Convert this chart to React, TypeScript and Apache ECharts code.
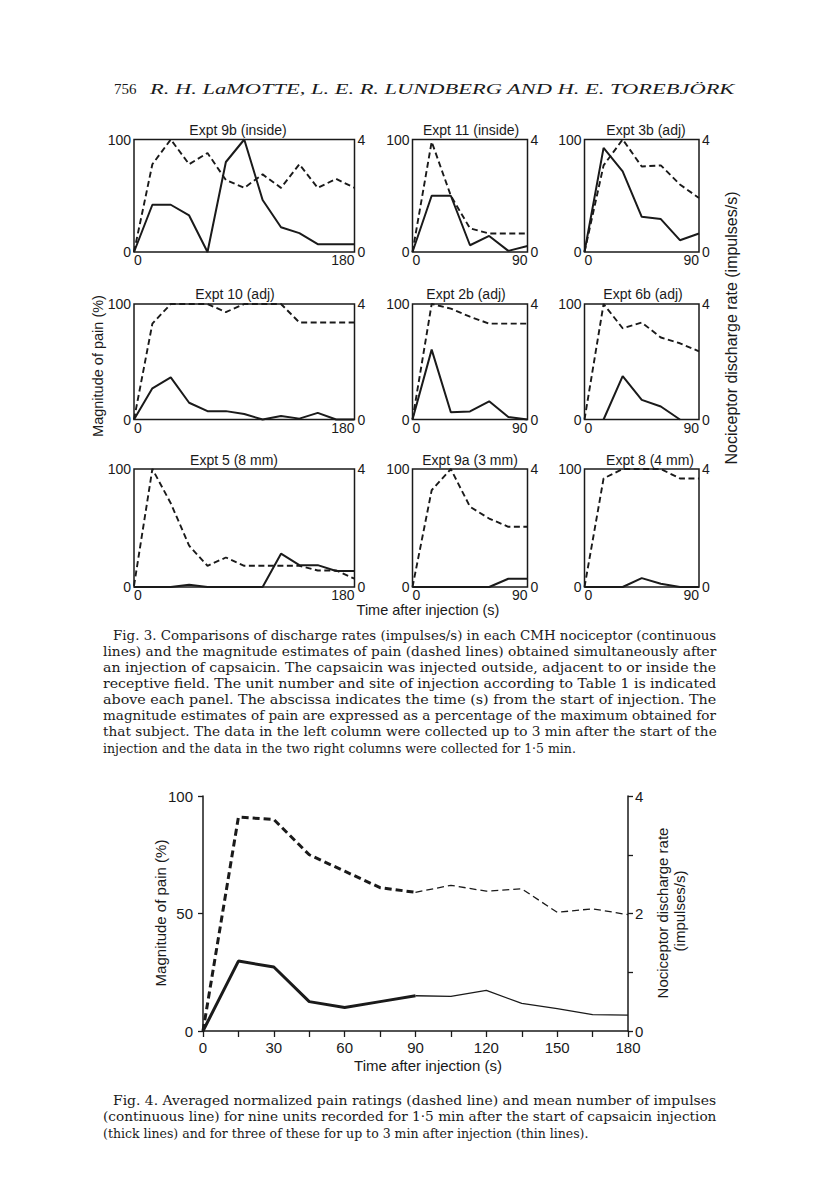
import React, { useEffect, useRef } from "react";
import * as echarts from "echarts";

// ---------- DATA ----------
const T180 = [0, 15, 30, 45, 60, 75, 90, 105, 120, 135, 150, 165, 180];
const T90 = [0, 15, 30, 45, 60, 75, 90];

const panelTitles = [
  "Expt 9b (inside)", "Expt 11 (inside)", "Expt 3b (adj)",
  "Expt 10 (adj)", "Expt 2b (adj)", "Expt 6b (adj)",
  "Expt 5 (8 mm)", "Expt 9a (3 mm)", "Expt 8 (4 mm)",
];

// pain magnitude (%) – dashed lines
const pain9b = [0, 78, 100, 78, 88, 64, 57, 69, 57, 78, 57, 65, 57];
const pain11 = [0, 98, 50, 21, 16.5, 16.5, 16.5];
const pain3b = [0, 77, 100, 76, 77, 60, 48];
const pain10 = [0, 83, 100, 100, 100, 93, 100, 100, 100, 84, 84, 84, 84];
const pain2b = [0, 100, 96, 89, 83, 83, 83];
const pain6b = [0, 100, 79, 84, 71, 66, 59];
const pain5 = [1, 100, 71, 35, 18, 25, 18, 18, 18, 18, 14, 14, 7];
const pain9a = [0, 82, 100, 68, 58, 51, 51];
const pain8 = [0, 92, 100, 100, 100, 92, 92];

// nociceptor discharge rate (impulses/s) – continuous lines
const rate9b = [0, 1.68, 1.68, 1.3, 0, 3.2, 4.0, 1.85, 0.88, 0.67, 0.28, 0.28, 0.28];
const rate11 = [0, 2.0, 2.0, 0.24, 0.57, 0.04, 0.21];
const rate3b = [0, 3.7, 2.87, 1.25, 1.17, 0.42, 0.66];
const rate10 = [0, 1.08, 1.46, 0.58, 0.29, 0.29, 0.19, 0, 0.12, 0.03, 0.23, 0, 0];
const rate2b = [0, 2.42, 0.25, 0.28, 0.63, 0.09, 0];
const rate6b = [null, 0, 1.5, 0.68, 0.45, 0, null];
const rate5 = [0, 0, 0, 0.08, 0, 0, 0, 0, 1.13, 0.74, 0.74, 0.54, 0.54];
const rate9a = [0, 0, 0, 0, 0, 0.28, 0.28];
const rate8 = [0, 0, 0, 0.3, 0.11, 0, 0];

// Fig. 4 averaged data
const fig4Time = [0, 15, 30, 45, 60, 75, 90, 105, 120, 135, 150, 165, 180];
const fig4Pain = [0, 91, 90, 75, 68, 61, 59, 62, 59.5, 60.5, 50.5, 52, 49.5];
const fig4Rate = [0, 1.19, 1.09, 0.5, 0.4, 0.5, 0.6, 0.59, 0.69, 0.47, 0.38, 0.28, 0.27];
const fig4XTicks = [0, 30, 60, 90, 120, 150, 180];

const headerText = "R. H. LaMOTTE, L. E. R. LUNDBERG AND H. E. TOREBJÖRK";
const pageNumber = "756";
const fig3Caption = [
  "Fig. 3. Comparisons of discharge rates (impulses/s) in each CMH nociceptor (continuous",
  "lines) and the magnitude estimates of pain (dashed lines) obtained simultaneously after",
  "an injection of capsaicin. The capsaicin was injected outside, adjacent to or inside the",
  "receptive field. The unit number and site of injection according to Table 1 is indicated",
  "above each panel. The abscissa indicates the time (s) from the start of injection. The",
  "magnitude estimates of pain are expressed as a percentage of the maximum obtained for",
  "that subject. The data in the left column were collected up to 3 min after the start of the",
  "injection and the data in the two right columns were collected for 1·5 min.",
];
const fig4Caption = [
  "Fig. 4. Averaged normalized pain ratings (dashed line) and mean number of impulses",
  "(continuous line) for nine units recorded for 1·5 min after the start of capsaicin injection",
  "(thick lines) and for three of these for up to 3 min after injection (thin lines).",
];

// ---------- LAYOUT ----------
const INK = "#1a1a1a";
const SANS = "'Liberation Sans', Arial, sans-serif";
const SERIF = "'DejaVu Serif', serif";

const panelData = [
  { time: T180, pain: pain9b, rate: rate9b },
  { time: T90, pain: pain11, rate: rate11 },
  { time: T90, pain: pain3b, rate: rate3b },
  { time: T180, pain: pain10, rate: rate10 },
  { time: T90, pain: pain2b, rate: rate2b },
  { time: T90, pain: pain6b, rate: rate6b },
  { time: T180, pain: pain5, rate: rate5 },
  { time: T90, pain: pain9a, rate: rate9a },
  { time: T90, pain: pain8, rate: rate8 },
];

const colL = [134, 412.5, 584.5];
const colW = [220.5, 115, 114.5];
const rowT = [139.5, 304, 469];
const rowH = [112.5, 115.5, 118];
const titleX = [[238, 471, 646], [235, 466, 643], [234, 470, 650]];
const titleY = [130, 294, 460];

function measure(text: string, font: string) {
  const ctx = document.createElement("canvas").getContext("2d")!;
  ctx.font = font;
  return ctx.measureText(text).width;
}

function buildOption() {
  const grid: any[] = [];
  const xAxis: any[] = [];
  const yAxis: any[] = [];
  const series: any[] = [];
  const graphic: any[] = [];

  const lbl = { color: INK, fontFamily: SANS, fontSize: 14 };

  panelData.forEach((p, i) => {
    const r = Math.floor(i / 3), c = i % 3;
    const tmax = p.time[p.time.length - 1];
    grid.push({
      left: colL[c], top: rowT[r], width: colW[c], height: rowH[r],
      show: true, borderColor: INK, borderWidth: 1.5, backgroundColor: "transparent",
    });
    xAxis.push({
      gridIndex: i, type: "value", min: 0, max: tmax, interval: tmax,
      axisLine: { show: false }, axisTick: { show: false }, splitLine: { show: false },
      axisLabel: { ...lbl, margin: 1, alignMinLabel: "left", alignMaxLabel: "right" },
    });
    yAxis.push({
      gridIndex: i, type: "value", min: 0, max: 100, interval: 100, position: "left",
      axisLine: { show: false }, axisTick: { show: false }, splitLine: { show: false },
      axisLabel: { ...lbl, margin: 3 },
    });
    yAxis.push({
      gridIndex: i, type: "value", min: 0, max: 4, interval: 4, position: "right",
      axisLine: { show: false }, axisTick: { show: false }, splitLine: { show: false },
      axisLabel: { ...lbl, margin: 3 },
    });
    series.push({
      type: "line", xAxisIndex: i, yAxisIndex: 2 * i, symbol: "none", clip: false,
      data: p.time.map((t, k) => [t, p.pain[k]]).filter((d) => d[1] != null),
      lineStyle: { color: INK, width: 1.9, type: [6, 3.5] },
    });
    series.push({
      type: "line", xAxisIndex: i, yAxisIndex: 2 * i + 1, symbol: "none", clip: false,
      data: p.time.map((t, k) => [t, p.rate[k]]).filter((d) => d[1] != null),
      lineStyle: { color: INK, width: 2 },
    });
    graphic.push({
      type: "text", x: titleX[r][c], y: titleY[r],
      style: { text: panelTitles[i], fill: INK, font: `14px ${SANS}`, align: "center", verticalAlign: "middle" },
    });
  });

  // Fig. 3 axis titles
  graphic.push({
    type: "text", x: 98, y: 366, rotation: Math.PI / 2,
    style: { text: "Magnitude of pain (%)", fill: INK, font: `14.5px ${SANS}`, align: "center", verticalAlign: "middle" },
  });
  graphic.push({
    type: "text", x: 731, y: 328, rotation: Math.PI / 2,
    style: { text: "Nociceptor discharge rate (impulses/s)", fill: INK, font: `16px ${SANS}`, align: "center", verticalAlign: "middle" },
  });
  graphic.push({
    type: "text", x: 428, y: 610,
    style: { text: "Time after injection (s)", fill: INK, font: `14.5px ${SANS}`, align: "center", verticalAlign: "middle" },
  });

  // ---------- Fig. 4 ----------
  const gi = grid.length;
  grid.push({ left: 203, top: 796, width: 425, height: 235, show: false });
  const axLine = { show: true, lineStyle: { color: INK, width: 1.5 } };
  xAxis.push({
    gridIndex: gi, type: "value", min: 0, max: 180, interval: 30,
    axisLine: axLine,
    axisTick: { show: true, length: 6, lineStyle: { color: INK, width: 1.3 } },
    minorTick: { show: true, splitNumber: 2, length: 6, lineStyle: { color: INK, width: 1.3 } },
    splitLine: { show: false },
    axisLabel: { color: INK, fontFamily: SANS, fontSize: 15, margin: 9,
      formatter: (v: number) => (fig4XTicks.includes(v) ? String(v) : "") },
  });
  yAxis.push({
    gridIndex: gi, type: "value", min: 0, max: 100, interval: 50, position: "left",
    axisLine: axLine,
    axisTick: { show: true, length: 5, lineStyle: { color: INK, width: 1.3 } },
    splitLine: { show: false },
    axisLabel: { color: INK, fontFamily: SANS, fontSize: 15, margin: 10 },
  });
  yAxis.push({
    gridIndex: gi, type: "value", min: 0, max: 4, interval: 2, position: "right",
    axisLine: axLine,
    axisTick: { show: true, length: 5, lineStyle: { color: INK, width: 1.3 } },
    minorTick: { show: true, splitNumber: 2, length: 5, lineStyle: { color: INK, width: 1.3 } },
    splitLine: { show: false },
    axisLabel: { color: INK, fontFamily: SANS, fontSize: 15, margin: 7 },
  });
  const pts = (vals: number[]) => fig4Time.map((t, k) => [t, vals[k]]);
  const thick = (d: number[][]) => d.filter((q) => q[0] <= 90);
  const thin = (d: number[][]) => d.filter((q) => q[0] >= 90);
  const yL = yAxis.length - 2, yR = yAxis.length - 1;
  series.push({ type: "line", xAxisIndex: gi, yAxisIndex: yL, symbol: "none", clip: false,
    data: thick(pts(fig4Pain)), lineStyle: { color: INK, width: 3, type: [7, 4] } });
  series.push({ type: "line", xAxisIndex: gi, yAxisIndex: yL, symbol: "none", clip: false,
    data: thin(pts(fig4Pain)), lineStyle: { color: INK, width: 1.3, type: [7, 4] } });
  series.push({ type: "line", xAxisIndex: gi, yAxisIndex: yR, symbol: "none", clip: false,
    data: thick(pts(fig4Rate)), lineStyle: { color: INK, width: 3 } });
  series.push({ type: "line", xAxisIndex: gi, yAxisIndex: yR, symbol: "none", clip: false,
    data: thin(pts(fig4Rate)), lineStyle: { color: INK, width: 1.3 } });

  graphic.push({
    type: "text", x: 160, y: 913, rotation: Math.PI / 2,
    style: { text: "Magnitude of pain (%)", fill: INK, font: `15px ${SANS}`, align: "center", verticalAlign: "middle" },
  });
  graphic.push({
    type: "text", x: 662, y: 913, rotation: Math.PI / 2,
    style: { text: "Nociceptor discharge rate", fill: INK, font: `15px ${SANS}`, align: "center", verticalAlign: "middle" },
  });
  graphic.push({
    type: "text", x: 679, y: 911, rotation: Math.PI / 2,
    style: { text: "(impulses/s)", fill: INK, font: `15px ${SANS}`, align: "center", verticalAlign: "middle" },
  });
  graphic.push({
    type: "text", x: 428, y: 1065,
    style: { text: "Time after injection (s)", fill: INK, font: `15px ${SANS}`, align: "center", verticalAlign: "middle" },
  });

  // ---------- page text ----------
  const hdrFont = `italic 15px 'Liberation Serif', serif`;
  graphic.push({
    type: "text", x: 114, y: 89,
    style: { text: pageNumber, fill: INK, font: `15px 'Liberation Serif', serif`, align: "left", verticalAlign: "middle" },
  });
  const hw = measure(headerText, hdrFont);
  graphic.push({
    type: "text", x: 150, y: 89, scaleX: (735 - 150) / hw,
    style: { text: headerText, fill: INK, font: hdrFont, align: "left", verticalAlign: "middle" },
  });

  const capFont = `12.5px ${SERIF}`;
  const addCaption = (lines: string[], y0: number, step: number) => {
    const L = 103, R = 717, indent = 10;
    lines.forEach((ln, k) => {
      const left = k === 0 ? L + indent : L;
      const w = measure(ln, capFont);
      const last = k === lines.length - 1;
      const sx = last ? 1 : (R - left) / w;
      graphic.push({
        type: "text", x: left, y: y0 + k * step, scaleX: sx,
        style: { text: ln, fill: INK, font: capFont, align: "left", verticalAlign: "middle" },
      });
    });
  };
  addCaption(fig3Caption, 636, 16);
  addCaption(fig4Caption, 1101, 16);

  return { animation: false, backgroundColor: "#ffffff", grid, xAxis, yAxis, series, graphic };
}

export default function App() {
  const ref = useRef<HTMLDivElement>(null);
  useEffect(() => {
    const chart = echarts.init(ref.current!, undefined, { renderer: "svg" });
    chart.setOption(buildOption() as any);
    return () => chart.dispose();
  }, []);
  return (
    <div
      ref={ref}
      style={{ position: "absolute", left: 0, top: 0, width: 816, height: 1203, background: "#fff" }}
    />
  );
}
